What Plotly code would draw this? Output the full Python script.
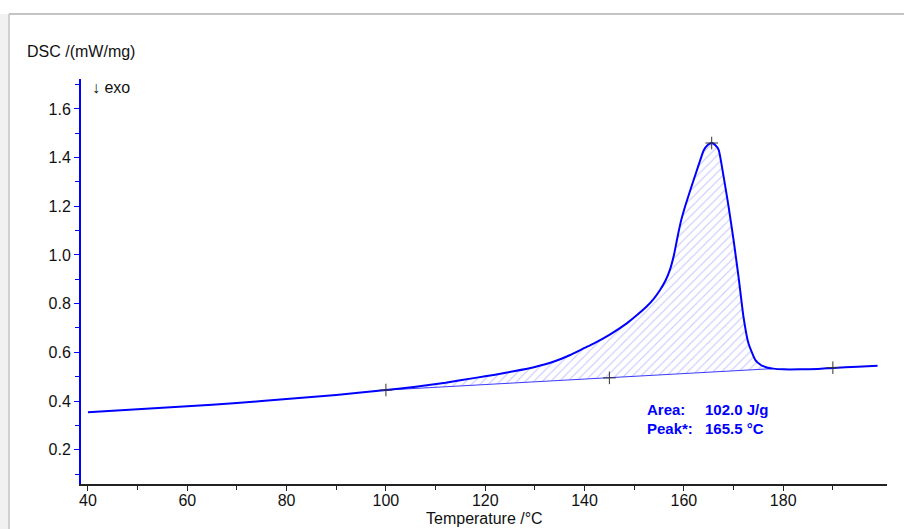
import plotly.graph_objects as go

# DSC curve (temperature in °C, DSC in mW/mg)
temp = [40, 50, 60, 70, 80, 90, 100, 106, 112, 118, 122, 125.7, 130, 133.7, 137, 140, 142,
        145, 148.5, 150.5, 152.5, 154, 155.2, 156.3, 157.2, 158.0, 158.7, 159.4, 160.3,
        161.3, 162.4, 163.3, 164.0, 164.8, 165.6, 166.3, 167.0, 168.0, 169.0, 170.0, 171.0,
        172.0, 173.0, 174.4, 175.5, 176.7, 178, 180, 183.4, 187, 190, 195, 199]
dsc = [0.354, 0.366, 0.378, 0.392, 0.408, 0.425, 0.445, 0.459, 0.475, 0.495, 0.508, 0.522,
       0.540, 0.561, 0.588, 0.618, 0.638, 0.672, 0.719, 0.752, 0.788, 0.822, 0.856, 0.895,
       0.940, 1.000, 1.072, 1.138, 1.203, 1.267, 1.335, 1.390, 1.430, 1.452, 1.460, 1.452,
       1.432, 1.322, 1.199, 1.062, 0.911, 0.746, 0.637, 0.568, 0.548, 0.538, 0.533, 0.530,
       0.530, 0.532, 0.536, 0.541, 0.545]

# integration baseline endpoints
base_t = [100, 178]
base_v = [0.445, 0.533]

# evaluation markers
mark_t = [100, 145, 165.6, 190]
mark_v = [0.445, 0.495, 1.460, 0.537]

area_text = ["Area:", "102.0 J/g"]
peak_text = ["Peak*:", "165.5 °C"]

x_ticks = [40, 60, 80, 100, 120, 140, 160, 180]
y_ticks = [0.2, 0.4, 0.6, 0.8, 1.0, 1.2, 1.4, 1.6]

# hatched polygon between curve and baseline
seg = [(t, v) for t, v in zip(temp, dsc) if base_t[0] <= t <= base_t[1]]
poly_x = [t for t, _ in seg] + [base_t[1], base_t[0]]
poly_y = [v for _, v in seg] + [base_v[1], base_v[0]]

BLUE = "#0000ff"
FONT = "Liberation Sans, Arial, sans-serif"

fig = go.Figure()
fig.add_trace(go.Scatter(
    x=poly_x, y=poly_y, mode="lines", fill="toself",
    line=dict(width=0, color="rgba(0,0,0,0)"),
    fillcolor="rgba(255,255,255,0)",
    fillpattern=dict(shape="/", fgcolor="#8c8cff", bgcolor="rgba(255,255,255,0)",
                     size=6, solidity=0.18),
    hoverinfo="skip", showlegend=False))
fig.add_trace(go.Scatter(
    x=base_t, y=base_v, mode="lines",
    line=dict(color="#3a3aff", width=1), showlegend=False))
fig.add_trace(go.Scatter(
    x=temp, y=dsc, mode="lines",
    line=dict(color=BLUE, width=2, shape="spline", smoothing=0.5), showlegend=False))
fig.add_trace(go.Scatter(
    x=mark_t, y=mark_v, mode="markers",
    marker=dict(symbol="cross-thin", size=9, line=dict(color="#333333", width=1)),
    showlegend=False))

# annotation texts
for row, yv in [(area_text, 0.367), (peak_text, 0.285)]:
    fig.add_annotation(x=152.2, y=yv, text=row[0], showarrow=False, xanchor="left",
                       font=dict(family=FONT, size=15, color=BLUE, weight="bold"))
    fig.add_annotation(x=163.9, y=yv, text=row[1], showarrow=False, xanchor="left",
                       font=dict(family=FONT, size=15, color=BLUE, weight="bold"))

fig.add_annotation(xref="paper", yref="paper", x=-0.0695, y=1.0667, text="DSC /(mW/mg)",
                   showarrow=False, xanchor="left", yanchor="middle",
                   font=dict(family=FONT, size=16, color="#111"))
fig.add_annotation(xref="paper", yref="paper", x=0.011, y=0.978, text="↓ exo",
                   showarrow=False, xanchor="left", yanchor="middle",
                   font=dict(family=FONT, size=16, color="#111"))
fig.add_annotation(xref="paper", yref="paper", x=0.5, y=-0.0845, text="Temperature /°C",
                   showarrow=False, xanchor="center", yanchor="middle",
                   font=dict(family=FONT, size=16, color="#111"))

# outer frame
fig.add_shape(type="rect", xref="paper", yref="paper", x0=-0.2, x1=-0.0893, y0=-0.2, y1=1.1605,
              fillcolor="#f1f1f1", line=dict(width=0), layer="below")
fig.add_shape(type="line", xref="paper", yref="paper", x0=-0.0893, x1=1.05, y0=1.1605, y1=1.1605,
              line=dict(color="#c4c4c4", width=2))
fig.add_shape(type="line", xref="paper", yref="paper", x0=-0.0893, x1=-0.0893, y0=-0.2, y1=1.1605,
              line=dict(color="#c4c4c4", width=1.5))

fig.update_layout(
    width=904, height=529,
    margin=dict(l=81, r=17, t=79, b=45),
    paper_bgcolor="white", plot_bgcolor="white",
    font=dict(family=FONT, size=16, color="#111"),
    xaxis=dict(range=[38.6, 200.9], tickmode="array", tickvals=x_ticks,
               ticks="outside", ticklen=5, tickcolor="#222", showgrid=False, zeroline=False,
               showline=True, linecolor="#222", linewidth=1.5, ticklabelstandoff=-4,
               tickfont=dict(family=FONT, size=16, color="#111"),
               minor=dict(tickmode="array", tickvals=[50, 70, 90, 110, 130, 150, 170, 190],
                          ticks="outside", ticklen=4, tickcolor="#222")),
    yaxis=dict(range=[0.059, 1.723], tickmode="array", tickvals=y_ticks,
               ticktext=[f"{v:.1f}" for v in y_ticks],
               ticks="outside", ticklen=5, tickcolor=BLUE, showgrid=False, zeroline=False,
               showline=True, linecolor=BLUE, linewidth=2,
               tickfont=dict(family=FONT, size=16, color="#111"),
               minor=dict(tickmode="array",
                          tickvals=[0.1, 0.3, 0.5, 0.7, 0.9, 1.1, 1.3, 1.5, 1.7],
                          ticks="outside", ticklen=4, tickcolor=BLUE)),
)

fig.write_html("out.html")
